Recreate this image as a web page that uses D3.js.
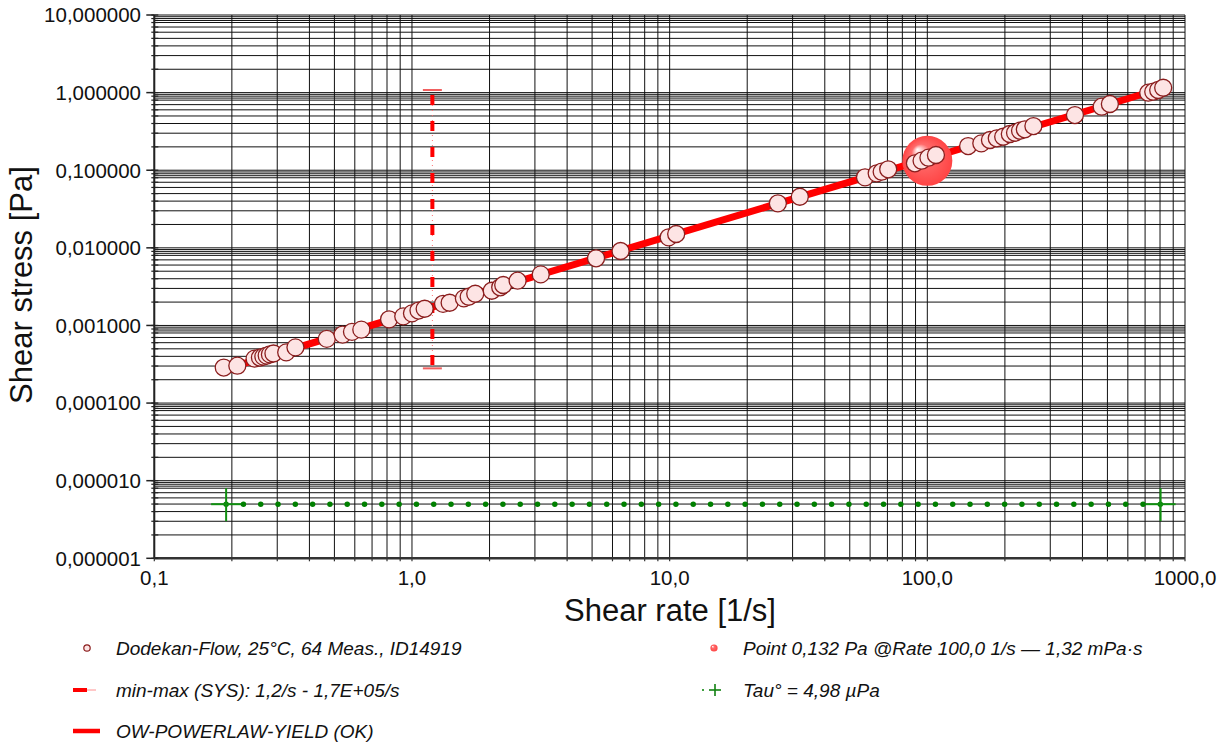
<!DOCTYPE html>
<html><head><meta charset="utf-8">
<script src="https://cdn.jsdelivr.net/npm/d3@7"></script>
<style>
body{margin:0;background:#fff;}
svg{display:block;font-family:"Liberation Sans",Arial,sans-serif;}
</style>
</head><body>
<svg id="c" width="1220" height="742"></svg>
<script>
// ---- data ----
const rates = [0.186,0.210,0.245,0.257,0.265,0.273,0.281,0.290,0.325,0.353,0.467,0.538,0.585,0.636,0.815,0.925,1.00,1.06,1.12,1.32,1.40,1.59,1.66,1.76,2.04,2.20,2.26,2.57,3.16,5.18,6.45,9.91,10.6,26.3,32.0,57.3,63.6,66.5,70.5,89.5,95.0,101,108,144,162,175,186,197,209,219,229,239,258,374,475,511,720,753,787,823];
const stresses = [2.87e-4,3.03e-4,3.74e-4,3.86e-4,3.97e-4,4.09e-4,4.24e-4,4.35e-4,4.50e-4,5.22e-4,6.72e-4,7.63e-4,8.27e-4,8.83e-4,1.199e-3,1.310e-3,1.432e-3,1.556e-3,1.641e-3,1.899e-3,1.962e-3,2.235e-3,2.344e-3,2.56e-3,2.80e-3,3.10e-3,3.32e-3,3.77e-3,4.55e-3,7.33e-3,9.10e-3,1.366e-2,1.507e-2,3.745e-2,4.55e-2,8.10e-2,9.12e-2,9.57e-2,1.028e-1,1.228e-1,1.326e-1,1.45e-1,1.57e-1,2.05e-1,2.22e-1,2.45e-1,2.58e-1,2.70e-1,2.93e-1,3.04e-1,3.23e-1,3.37e-1,3.71e-1,5.14e-1,6.58e-1,7.13e-1,9.97e-1,1.028,1.080,1.156];
const fitRates = [0.1864, 830];
const fitStresses = [2.71e-4, 1.155];
const errRate = [1.2];
const errRange = [2.8e-4, 1.08];
const pointRate = [100];
const pointStress = [0.132];
const tauRates = [0.19, 804];
const tauValue = [4.98e-6];
const xTickValues = [0.1, 1, 10, 100, 1000];
const xTickLabels = ["0,1","1,0","10,0","100,0","1000,0"];
const yTickValues = [1e-6,1e-5,1e-4,1e-3,1e-2,1e-1,1,10];
const yTickLabels = ["0,000001","0,000010","0,000100","0,001000","0,010000","0,100000","1,000000","10,000000"];
const extraMinor = [8.5, 9.5];
const xTitle = "Shear rate [1/s]";
const yTitle = "Shear stress [Pa]";
const legendLeft = ["Dodekan-Flow, 25°C, 64 Meas., ID14919","min-max (SYS): 1,2/s - 1,7E+05/s","OW-POWERLAW-YIELD (OK)"];
const legendRight = ["Point 0,132 Pa @Rate 100,0 1/s — 1,32 mPa·s","Tau° = 4,98 µPa"];

// ---- layout ----
const svg = d3.select("#c");
const L = 154.3, R = 1185, T = 15, B = 558.3;
const x = d3.scaleLog().domain([0.1, 1000]).range([L, R]);
const y = d3.scaleLog().domain([1e-6, 10]).range([B, T]);

const defs = svg.append("defs");
const g1 = defs.append("radialGradient").attr("id","sphere").attr("cx","0.5").attr("cy","0.5").attr("r","0.5").attr("fx","0.3").attr("fy","0.27");
g1.append("stop").attr("offset","0%").attr("stop-color","#ffffff");
g1.append("stop").attr("offset","12%").attr("stop-color","#ffd2d2");
g1.append("stop").attr("offset","38%").attr("stop-color","#ff6b6b");
g1.append("stop").attr("offset","100%").attr("stop-color","#ff4444");

// grid
const grid = svg.append("g").attr("stroke","#111").attr("stroke-width",1).attr("fill","none");
grid.selectAll("line.v").data(x.ticks()).join("line")
  .attr("x1",d=>x(d)).attr("x2",d=>x(d)).attr("y1",T).attr("y2",B);
const yMinor = y.ticks().concat(d3.range(-6,1).flatMap(e=>extraMinor.map(m=>m*Math.pow(10,e))));
grid.selectAll("line.h").data(yMinor).join("line")
  .attr("x1",L).attr("x2",R).attr("y1",d=>y(d)).attr("y2",d=>y(d));

// axes
svg.append("line").attr("x1",L).attr("x2",L).attr("y1",T).attr("y2",B).attr("stroke","#222").attr("stroke-width",2);
svg.append("line").attr("x1",L).attr("x2",R).attr("y1",B).attr("y2",B).attr("stroke","#333").attr("stroke-width",2.5);
svg.append("g").selectAll("line").data(yTickValues).join("line")
  .attr("x1",L-8).attr("x2",L).attr("y1",d=>y(d)).attr("y2",d=>y(d)).attr("stroke","#222").attr("stroke-width",1.5);
svg.append("g").selectAll("line").data(y.ticks()).join("line")
  .attr("x1",L-3).attr("x2",L+4).attr("y1",d=>y(d)).attr("y2",d=>y(d)).attr("stroke","#222").attr("stroke-width",1.2);
svg.append("g").selectAll("line").data(x.ticks()).join("line")
  .attr("x1",d=>x(d)).attr("x2",d=>x(d)).attr("y1",B).attr("y2",B+3).attr("stroke","#333").attr("stroke-width",1.2);

// tick labels
svg.append("g").selectAll("text").data(yTickValues).join("text")
  .attr("x",141).attr("y",d=>y(d)).attr("dy","0.36em").attr("text-anchor","end")
  .attr("font-size",20.5).attr("fill","#111").text((d,i)=>yTickLabels[i]);
svg.append("g").selectAll("text").data(xTickValues).join("text")
  .attr("x",d=>x(d)).attr("y",585).attr("text-anchor","middle")
  .attr("font-size",20.5).attr("fill","#111").text((d,i)=>xTickLabels[i]);

// titles
svg.append("text").attr("x",670).attr("y",621).attr("text-anchor","middle").attr("font-size",31).attr("fill","#111").text(xTitle);
svg.append("text").attr("transform","translate(32,285) rotate(-90)").attr("text-anchor","middle").attr("font-size",31).attr("fill","#111").text(yTitle);

// tau line (green dotted with end crosses)
const tauLine = d3.line().x(d=>x(d)).y(()=>y(tauValue[0]));
svg.append("path").attr("d",tauLine(tauRates)).attr("fill","none").attr("stroke","#008000")
  .attr("stroke-width",5.5).attr("stroke-linecap","round").attr("stroke-dasharray","0 17.3");
const crosses = svg.append("g").attr("stroke","#109010").attr("stroke-width",2);
crosses.selectAll("line.hc").data(tauRates).join("line")
  .attr("x1",d=>x(d)-15).attr("x2",d=>x(d)+15).attr("y1",y(tauValue[0])).attr("y2",y(tauValue[0]));
crosses.selectAll("line.vc").data(tauRates).join("line")
  .attr("x1",d=>x(d)).attr("x2",d=>x(d)).attr("y1",y(tauValue[0])-16).attr("y2",y(tauValue[0])+17);

// error bar min-max
const ex = x(errRate[0]);
svg.append("line").attr("x1",ex).attr("x2",ex).attr("y1",y(errRange[1])).attr("y2",y(errRange[0]))
  .attr("stroke","#ff7070").attr("stroke-width",1).attr("stroke-dasharray","1 4");
svg.append("line").attr("x1",ex).attr("x2",ex).attr("y1",y(errRange[1])).attr("y2",y(errRange[0]))
  .attr("stroke","#ff0000").attr("stroke-width",4).attr("stroke-dasharray","10 16").attr("stroke-dashoffset",21);
svg.append("g").selectAll("line").data(errRange).join("line")
  .attr("x1",ex-9.5).attr("x2",ex+9.5).attr("y1",d=>y(d)).attr("y2",d=>y(d))
  .attr("stroke","#f06060").attr("stroke-width",2);

// fit line
const fitLine = d3.line().x(d=>x(d[0])).y(d=>y(d[1]));
svg.append("path").attr("d",fitLine(fitRates.map((r,i)=>[r,fitStresses[i]])))
  .attr("fill","none").attr("stroke","#ff0000").attr("stroke-width",7);

// highlighted point
svg.append("g").selectAll("circle").data(pointRate).join("circle")
  .attr("cx",d=>x(d)).attr("cy",(d,i)=>y(pointStress[i])).attr("r",25).attr("fill","url(#sphere)");

// data circles
svg.append("g").selectAll("circle").data(rates).join("circle")
  .attr("cx",d=>x(d)).attr("cy",(d,i)=>y(stresses[i])).attr("r",8.5)
  .attr("fill","#fde4e4").attr("stroke","#8b1e1e").attr("stroke-width",1.3);

// legend
const lg = svg.append("g").attr("font-size",19).attr("font-style","italic").attr("fill","#111");
const rowsY = [648, 690, 731];
lg.selectAll("text.l").data(legendLeft).join("text").attr("x",116).attr("y",(d,i)=>rowsY[i]).attr("dy","0.36em").text(d=>d);
lg.selectAll("text.r").data(legendRight).join("text").attr("x",743).attr("y",(d,i)=>rowsY[i]).attr("dy","0.36em").text(d=>d);
svg.append("circle").attr("cx",87).attr("cy",rowsY[0]).attr("r",3.2).attr("fill","#fde4e4").attr("stroke","#8b1e1e").attr("stroke-width",1.2);
svg.append("line").attr("x1",73).attr("x2",87).attr("y1",rowsY[1]).attr("y2",rowsY[1]).attr("stroke","#ff0000").attr("stroke-width",4);
svg.append("line").attr("x1",87).attr("x2",96).attr("y1",rowsY[1]).attr("y2",rowsY[1]).attr("stroke","#ff9090").attr("stroke-width",1);
svg.append("line").attr("x1",73).attr("x2",100).attr("y1",rowsY[2]).attr("y2",rowsY[2]).attr("stroke","#ff0000").attr("stroke-width",4.5);
svg.append("circle").attr("cx",714).attr("cy",rowsY[0]).attr("r",3.6).attr("fill","url(#sphere)");
svg.append("circle").attr("cx",703).attr("cy",rowsY[1]).attr("r",1).attr("fill","#008000");
svg.append("line").attr("x1",709).attr("x2",721).attr("y1",rowsY[1]).attr("y2",rowsY[1]).attr("stroke","#108010").attr("stroke-width",1.6);
svg.append("line").attr("x1",715).attr("x2",715).attr("y1",rowsY[1]-6).attr("y2",rowsY[1]+6).attr("stroke","#108010").attr("stroke-width",1.6);
</script>
</body></html>
